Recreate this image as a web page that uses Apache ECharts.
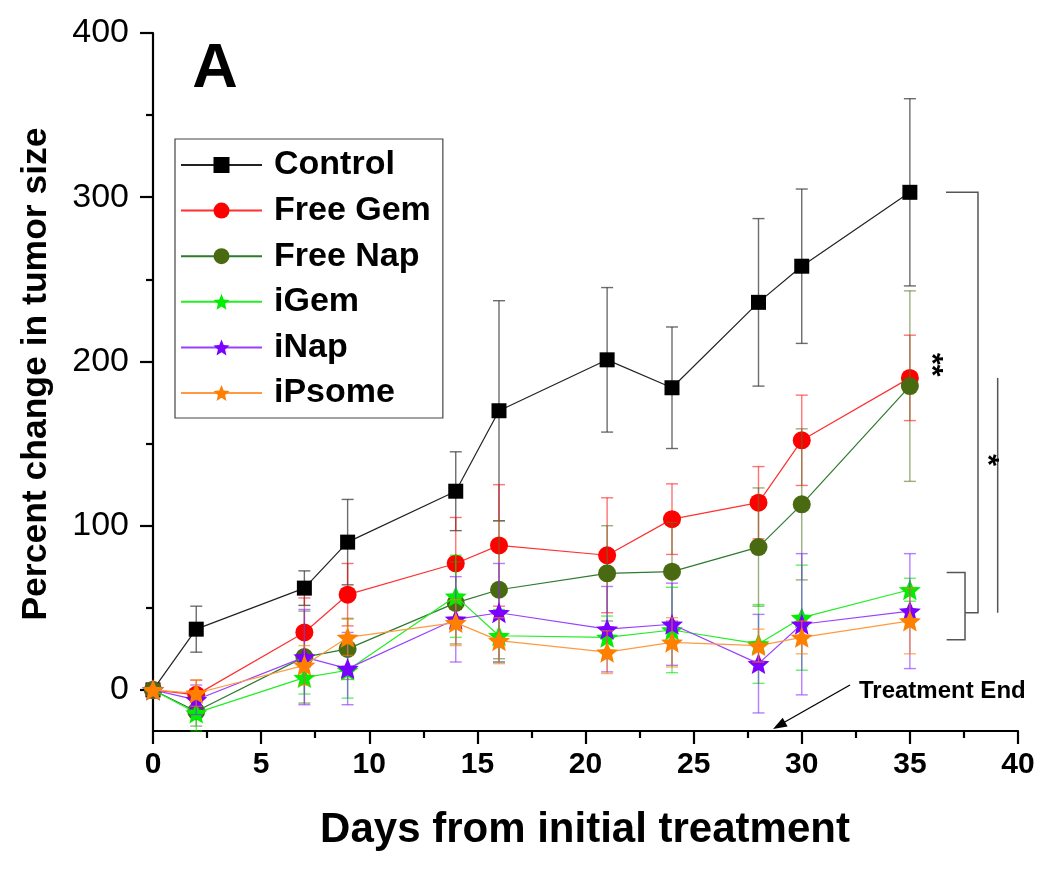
<!DOCTYPE html>
<html><head><meta charset="utf-8">
<script src="https://cdn.jsdelivr.net/npm/echarts@6/dist/echarts.min.js"></script>
<style>html,body{margin:0;padding:0;background:#fff}#c{width:1050px;height:876px}</style>
</head><body><div id="c"></div>
<script>
// ---- data ----
const days = [0, 2, 7, 9, 14, 16, 21, 24, 28, 30, 35];
const seriesNames = ['Control', 'Free Gem', 'Free Nap', 'iGem', 'iNap', 'iPsome'];
const controlVals = [0, 37, 62, 90, 121, 170, 201, 184, 236, 258, 303];
const controlErr  = [0, 14, 10.5, 26, 24, 67, 44, 37, 51, 47, 57];
const freeGemVals = [0, -3, 35, 58, 77, 88, 82, 104, 114, 152, 190];
const freeGemErr  = [0, 9, 21, 19, 28, 37, 35, 21.5, 22, 27.5, 26];
const freeNapVals = [0, -13, 20, 25, 53, 61, 71, 72, 87, 113, 185];
const freeNapErr  = [0, 9, 28, 18.6, 25, 42, 29, 30, 36, 46, 58];
const iGemVals    = [0, -14, 7.5, 12, 57, 33, 32, 36.5, 28, 44, 61];
const iGemErr     = [0, 11, 10, 17, 25, 16, 13, 26, 24, 32, 7];
const iNapVals    = [0, -6, 20, 13, 43, 47, 37, 40, 16, 40, 48];
const iNapErr     = [0, 9, 29, 22, 26, 30, 26, 25, 30, 43, 35];
const iPsomeVals  = [0, -2, 15, 32, 41, 30, 23, 29, 27, 32, 42];
const iPsomeErr   = [0, 8, 12, 11, 14, 14, 13, 15, 10, 10, 20];
const yMajorTicks = [0, 100, 200, 300, 400];
const yMinorTicks = [50, 150, 250, 350];

const FONT = 'Liberation Sans, Arial, Helvetica, sans-serif';
const STAR = 'path://M0,-10L2.645,-3.641L9.511,-3.09L4.28,1.391L5.878,8.09L0,4.5L-5.878,8.09L-4.28,1.391L-9.511,-3.09L-2.645,-3.641Z';

const styles = [
  {vals: controlVals, err: controlErr, symbol: 'rect', size: 15, mColor: '#000000', lColor: '#222222', eColor: 'rgba(60,60,60,0.75)'},
  {vals: freeGemVals, err: freeGemErr, symbol: 'circle', size: 18, mColor: '#ff0000', lColor: '#ff3030', eColor: 'rgba(255,0,0,0.55)'},
  {vals: freeNapVals, err: freeNapErr, symbol: 'circle', size: 18, mColor: '#4a6a12', lColor: '#2e7a2e', eColor: 'rgba(90,120,40,0.6)'},
  {vals: iGemVals, err: iGemErr, symbol: STAR, size: 22, mColor: '#00ee00', lColor: '#22ee22', eColor: 'rgba(0,230,0,0.6)'},
  {vals: iNapVals, err: iNapErr, symbol: STAR, size: 22, mColor: '#7a00ff', lColor: '#9a40ff', eColor: 'rgba(130,40,255,0.6)'},
  {vals: iPsomeVals, err: iPsomeErr, symbol: STAR, size: 22, mColor: '#ff7f00', lColor: '#ff9a40', eColor: 'rgba(255,128,0,0.6)'}
];

const series = [];
styles.forEach((s, k) => {
  const errData = days.map((d, i) => [d, s.vals[i] - s.err[i], s.vals[i] + s.err[i]]);
  series.push({
    type: 'custom', name: seriesNames[k] + ' error', data: errData,
    encode: {x: 0, y: [1, 2]}, z: 2 + k * 2, silent: true, clip: false,
    renderItem: function (params, api) {
      const x = api.value(0);
      const lo = api.coord([x, api.value(1)]);
      const hi = api.coord([x, api.value(2)]);
      const w = 6;
      const st = {stroke: s.eColor, lineWidth: 1.4, fill: null};
      return {type: 'group', children: [
        {type: 'line', shape: {x1: lo[0], y1: lo[1], x2: hi[0], y2: hi[1]}, style: st},
        {type: 'line', shape: {x1: lo[0] - w, y1: lo[1], x2: lo[0] + w, y2: lo[1]}, style: st},
        {type: 'line', shape: {x1: hi[0] - w, y1: hi[1], x2: hi[0] + w, y2: hi[1]}, style: st}
      ]};
    }
  });
  series.push({
    type: 'line', name: seriesNames[k],
    data: days.map((d, i) => [d, s.vals[i]]),
    symbol: s.symbol, symbolSize: s.size, symbolKeepAspect: true,
    itemStyle: {color: s.mColor, opacity: 1},
    lineStyle: {color: s.lColor, width: 1.2},
    z: 3 + k * 2, clip: false, animation: false
  });
});

const chart = echarts.init(document.getElementById('c'), null, {renderer: 'canvas'});
chart.setOption({
  animation: false,
  backgroundColor: '#ffffff',
  grid: {left: 153, right: 32, top: 33, bottom: 145, containLabel: false},
  legend: {
    data: seriesNames, orient: 'vertical', left: 175, top: 139,
    itemWidth: 81, itemHeight: 20, itemGap: 11.6,
    padding: [9, 12, 8, 5],
    borderColor: '#444', borderWidth: 1.2,
    textStyle: {fontSize: 34, fontWeight: 'bold', fontFamily: FONT, color: '#000', padding: [0, 0, 0, 7]},
    selectedMode: false
  },
  xAxis: {
    type: 'value', min: 0, max: 40, interval: 5,
    axisLine: {show: true, onZero: false, lineStyle: {color: '#000', width: 2.2}},
    axisTick: {show: true, length: 13, lineStyle: {color: '#000', width: 2.2}},
    minorTick: {show: true, splitNumber: 2, length: 7, lineStyle: {color: '#000', width: 2.2}},
    axisLabel: {fontSize: 30, fontWeight: 'bold', fontFamily: FONT, color: '#000', margin: 19},
    splitLine: {show: false}
  },
  yAxis: [{
    type: 'value', min: -25, max: 400,
    axisLine: {show: true, onZero: false, lineStyle: {color: '#000', width: 2.2}},
    axisTick: {show: true, length: 13, customValues: yMajorTicks, lineStyle: {color: '#000', width: 2.2}},
    axisLabel: {fontSize: 34, fontFamily: FONT, color: '#000', margin: 24, customValues: yMajorTicks},
    splitLine: {show: false}
  }, {
    type: 'value', min: -25, max: 400, position: 'left', offset: 0,
    axisLine: {show: false},
    axisTick: {show: true, length: 7, customValues: yMinorTicks, lineStyle: {color: '#000', width: 2.2}},
    axisLabel: {show: false},
    splitLine: {show: false}
  }],
  series: series
});

// ---- annotations ----
const P = (x, y) => chart.convertToPixel({gridIndex: 0}, [x, y]);
const gray = {stroke: '#555', lineWidth: 1.5, fill: null};
const br1 = [P(36.67, 303), P(38.15, 303), P(38.15, 47), P(37.55, 47)];
const br2 = [P(36.7, 71.5), P(37.55, 71.5), P(37.55, 30.5), P(36.7, 30.5)];
const ln3 = [P(39.06, 190), P(39.06, 47)];
const tip = [773, 729];
chart.setOption({
  graphic: [
    {type: 'polyline', shape: {points: br1}, style: gray, z: 50},
    {type: 'polyline', shape: {points: br2}, style: gray, z: 50},
    {type: 'polyline', shape: {points: ln3}, style: gray, z: 50},
    {type: 'text', x: P(38.6, 140)[0], y: P(38.6, 140)[1], rotation: -Math.PI / 2, style: {text: '*', font: 'bold 30px ' + FONT, fill: '#000', align: 'center', verticalAlign: 'middle'}, z: 50},
    {type: 'text', x: P(36.0, 198)[0], y: P(36.0, 198)[1], rotation: -Math.PI / 2, style: {text: '**', font: 'bold 30px ' + FONT, fill: '#000', align: 'center', verticalAlign: 'middle'}, z: 50},
    {type: 'text', x: 215, y: 70, style: {text: 'A', font: 'bold 63px ' + FONT, fill: '#000', align: 'center', verticalAlign: 'middle'}, z: 50},
    {type: 'text', x: 585, y: 830, style: {text: 'Days from initial treatment', font: 'bold 42px ' + FONT, fill: '#000', align: 'center', verticalAlign: 'middle'}, z: 50},
    {type: 'text', x: 36, y: 374, rotation: Math.PI / 2, style: {text: 'Percent change in tumor size', font: 'bold 35.5px ' + FONT, fill: '#000', align: 'center', verticalAlign: 'middle'}, z: 50},
    {type: 'text', x: 859, y: 691, style: {text: 'Treatment End', font: 'bold 24px ' + FONT, fill: '#000', align: 'left', verticalAlign: 'middle'}, z: 50},
    {type: 'line', shape: {x1: 850, y1: 685, x2: 783, y2: 723}, style: {stroke: '#000', lineWidth: 1.3}, z: 50},
    {type: 'polygon', shape: {points: [tip, [787.6, 726.4], [782.7, 717.7]]}, style: {fill: '#000'}, z: 50}
  ]
});
</script>
</body></html>
